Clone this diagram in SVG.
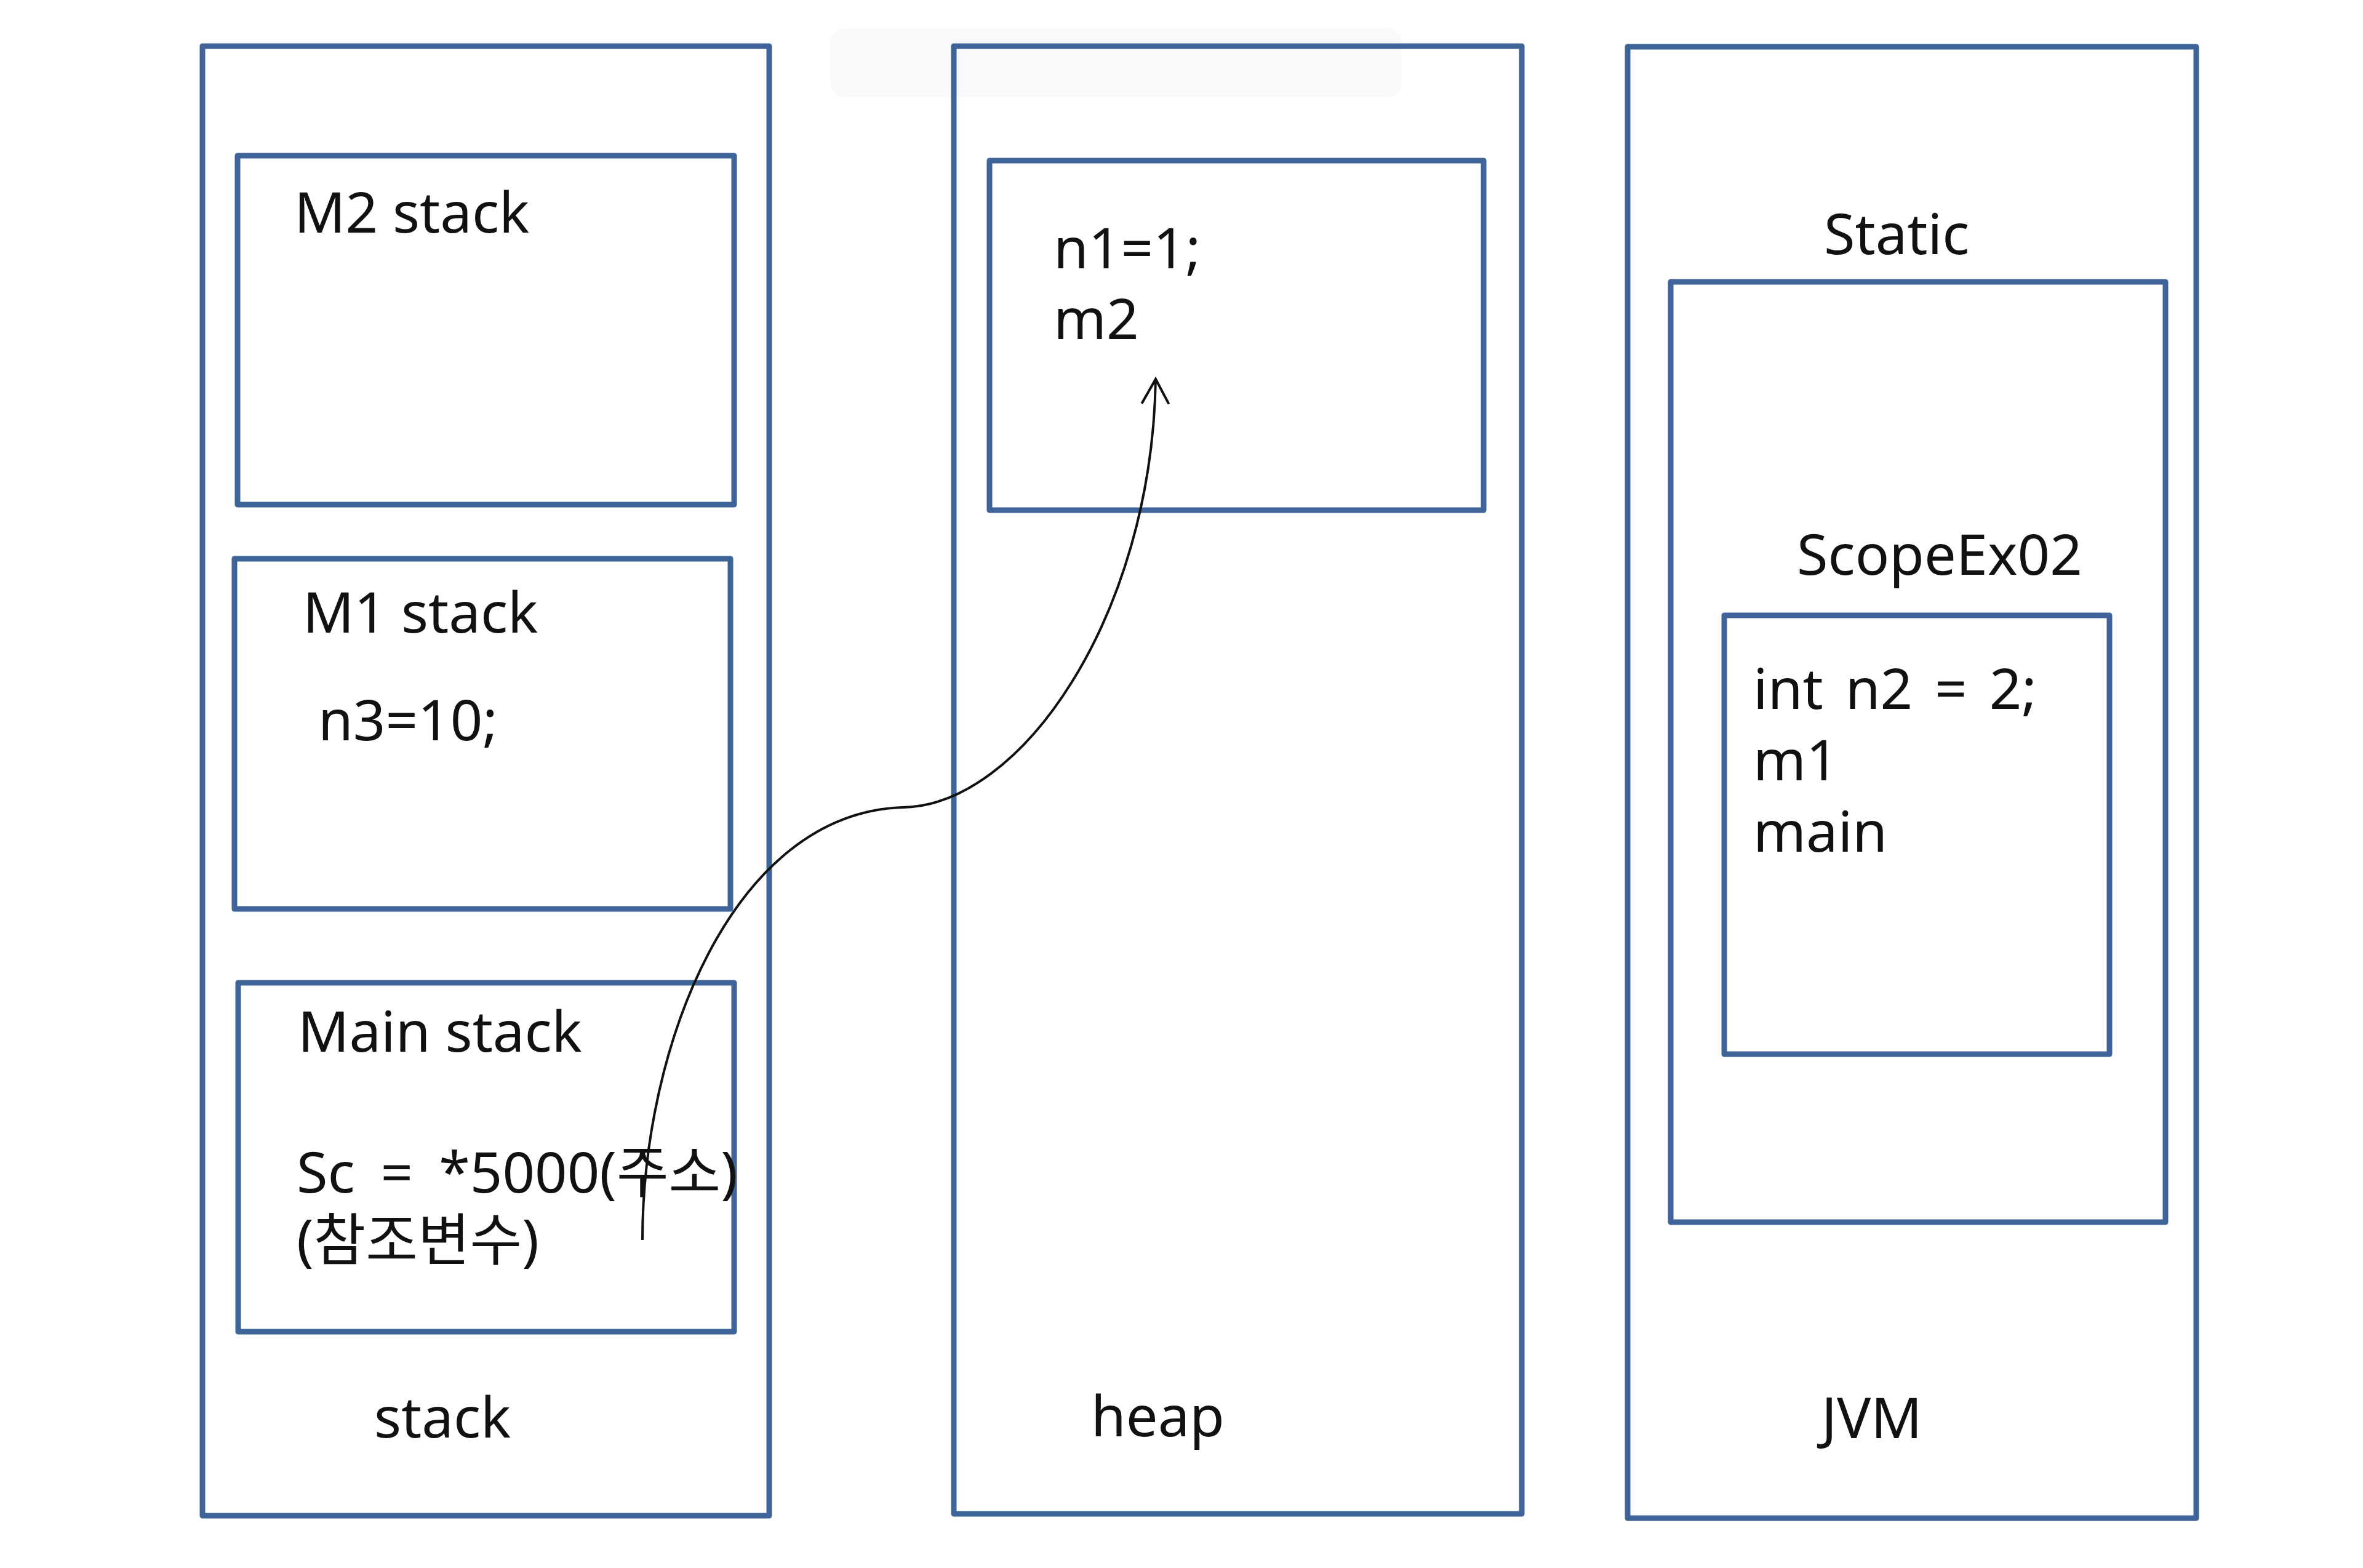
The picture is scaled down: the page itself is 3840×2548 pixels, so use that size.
<svg xmlns="http://www.w3.org/2000/svg" width="3840" height="2548" viewBox="0 0 3840 2548">
<defs>
<style>
.box{fill:none;stroke:#3F6598;stroke-width:9;stroke-linejoin:round}
.t{font-family:"Noto Sans","Noto Sans CJK KR",sans-serif;fill:#111;font-size:92px}
.link{fill:none;stroke:#111;stroke-width:4}
</style>
<marker id="chev" viewBox="-50 -30 60 60" refX="0" refY="0" markerWidth="60" markerHeight="60" markerUnits="userSpaceOnUse" orient="auto">
<path d="M-40,-22 L0,0 L-40,22" fill="none" stroke="#111" stroke-width="4"/>
</marker>
</defs>
<rect width="3840" height="2548" fill="#ffffff"/>
<rect x="1349" y="46" width="929" height="112" rx="24" fill="#f9f9fa"/>

<g id="stack">
<rect class="box" x="329" y="75" width="921" height="2388"/>
<text class="t" x="608" y="2336" font-size="90">stack</text>
</g>
<g id="m2-stack">
<rect class="box" x="386" y="253" width="807" height="567"/>
<text class="t" x="478" y="378" font-size="94">M2 stack</text>
</g>
<g id="m1-stack">
<rect class="box" x="381" y="908" width="806" height="569"/>
<text class="t" x="492" y="1028" font-size="94">M1 stack</text>
<text class="t" x="517" y="1203" font-size="88">n3=10;</text>
</g>
<g id="main-stack">
<rect class="box" x="387" y="1597" width="806" height="567"/>
<text class="t" x="484" y="1709" font-size="92">Main stack</text>
<text class="t" font-size="94"><tspan x="482" y="1938" word-spacing="18">Sc = *5000(주소)</tspan><tspan x="482" y="2048">(참조변수)</tspan></text>
</g>

<g id="heap">
<rect class="box" x="1550" y="75" width="923" height="2385"/>
<text class="t" x="1773" y="2334" font-size="88">heap</text>
</g>
<g id="heap-object">
<rect class="box" x="1608" y="261" width="803" height="568"/>
<text class="t" x="1712" y="436" font-size="84">n1=1;</text>
<text class="t" x="1712" y="551" font-size="84">m2</text>
</g>

<g id="jvm">
<rect class="box" x="2645" y="76" width="924" height="2391"/>
<text class="t" x="2960" y="2337" font-size="92">JVM</text>
</g>
<g id="static">
<rect class="box" x="2715" y="458" width="804" height="1528"/>
<text class="t" x="2964" y="413" font-size="90">Static</text>
<text class="t" x="2920" y="934" font-size="92">ScopeEx02</text>
</g>
<g id="scopeex02">
<rect class="box" x="2802" y="1000" width="626" height="713"/>
<text class="t" x="2849" y="1152" font-size="88" word-spacing="12">int n2 = 2;</text>
<text class="t" x="2849" y="1268" font-size="88">m1</text>
<text class="t" x="2849" y="1384" font-size="88">main</text>
</g>

<g id="connectors">
<path class="link" d="M1044,2015 C1044,1700 1190,1322 1466,1312 C1660,1310 1872,1000 1878,616" marker-end="url(#chev)"/>
</g>
</svg>
